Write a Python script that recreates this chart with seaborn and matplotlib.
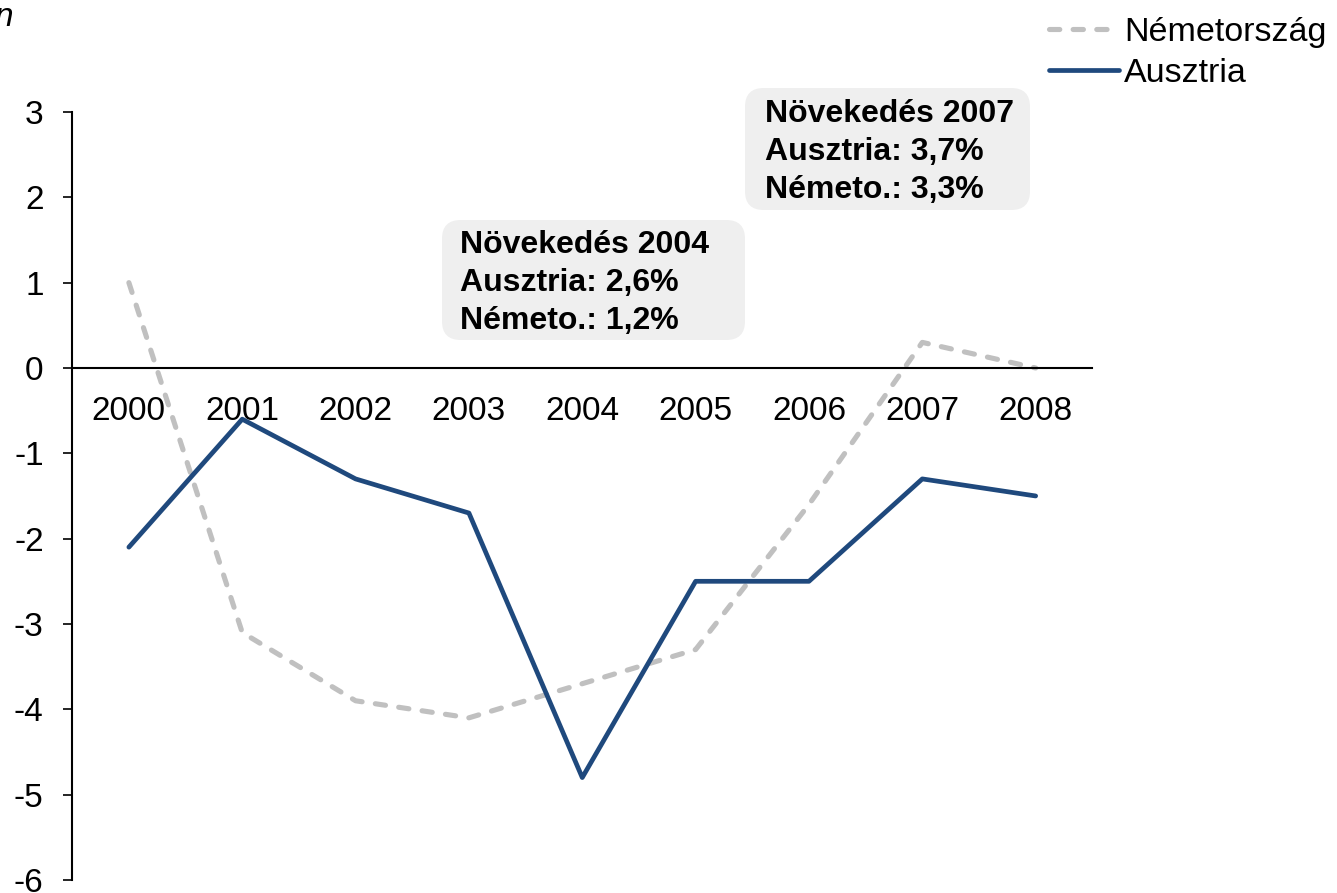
import matplotlib.pyplot as plt
import pandas as pd
import seaborn as sns
from matplotlib.patches import FancyBboxPatch

evek = [2000, 2001, 2002, 2003, 2004, 2005, 2006, 2007, 2008]
nemetorszag = [1.0, -3.1, -3.9, -4.1, -3.7, -3.3, -1.6, 0.3, 0.0]
ausztria = [-2.1, -0.6, -1.3, -1.7, -4.8, -2.5, -2.5, -1.3, -1.5]
y_ticks = [3, 2, 1, 0, -1, -2, -3, -4, -5, -6]

doboz_2004 = "Növekedés 2004\nAusztria: 2,6%\nNémeto.: 1,2%"
doboz_2007 = "Növekedés 2007\nAusztria: 3,7%\nNémeto.: 3,3%"

sns.set_style("white")
plt.rcParams["font.family"] = ["Liberation Sans", "DejaVu Sans"]
plt.rcParams["text.color"] = "black"

dados = pd.DataFrame({"ev": evek, "Németország": nemetorszag, "Ausztria": ausztria})

W, H = 1337, 893
fig = plt.figure(figsize=(W / 100, H / 100), dpi=100)
ax = fig.add_axes([0.054, 0.0146, 0.763, 0.86])

sns.lineplot(data=dados, x="ev", y="Németország", ax=ax, color="#C0C0C0",
             linewidth=3.7, linestyle=(0, (2.0, 2.6)), dash_capstyle="round",
             label="Németország")
sns.lineplot(data=dados, x="ev", y="Ausztria", ax=ax, color="#1F497D",
             linewidth=3.4, label="Ausztria")

for lado in ["top", "right"]:
    ax.spines[lado].set_visible(False)
ax.spines["bottom"].set_position(("data", 0))
ax.spines["bottom"].set_color("black")
ax.spines["bottom"].set_linewidth(1.5)
ax.spines["left"].set_color("black")
ax.spines["left"].set_linewidth(1.5)

ax.set_xlim(1999.5, 2008.5)
ax.set_ylim(-6, 3)
ax.set_yticks(y_ticks)
ax.set_yticklabels([str(t) for t in y_ticks])
ax.set_xticks(evek)
ax.set_xticklabels([str(e) for e in evek])
ax.tick_params(axis="x", length=0, pad=20, labelsize=24, labelcolor="black")
ax.tick_params(axis="y", length=6.5, width=1.2, direction="out", left=True, pad=14,
               labelsize=24, colors="black")
ax.set_xlabel("")
ax.set_ylabel("")

# dobozok (pixelben megadva, felső-bal sarokból)
for (x0, y0, x1, y1), szoveg, (tx, ty) in [
    ((442, 220, 745, 340), doboz_2004, (460, 283)),
    ((745, 88, 1030, 210), doboz_2007, (765, 152)),
]:
    fig.patches.append(FancyBboxPatch(
        (x0 / W, 1 - y1 / H), (x1 - x0) / W, (y1 - y0) / H,
        boxstyle="round,pad=0,rounding_size=0.014", mutation_aspect=W / H,
        transform=fig.transFigure, facecolor="#EFEFEF", edgecolor="none", zorder=5))
    fig.text(tx / W, 1 - ty / H, szoveg, fontsize=23, fontweight="bold",
             va="center", ha="left", linespacing=1.36, color="black", zorder=6)

ax.get_legend().remove()
handles, rotulos = ax.get_legend_handles_labels()
fig.legend(handles=handles, labels=rotulos, loc="upper left",
           bbox_to_anchor=(1049 / W, 1 - 17 / H), frameon=False,
           fontsize=24.5, handlelength=2.05, handletextpad=0.15, labelspacing=0.3,
           borderaxespad=0, borderpad=0)

fig.text(-0.004, 0.998, "n", fontsize=24, style="italic", va="top", ha="left")

fig.savefig("out.png", dpi=100)
